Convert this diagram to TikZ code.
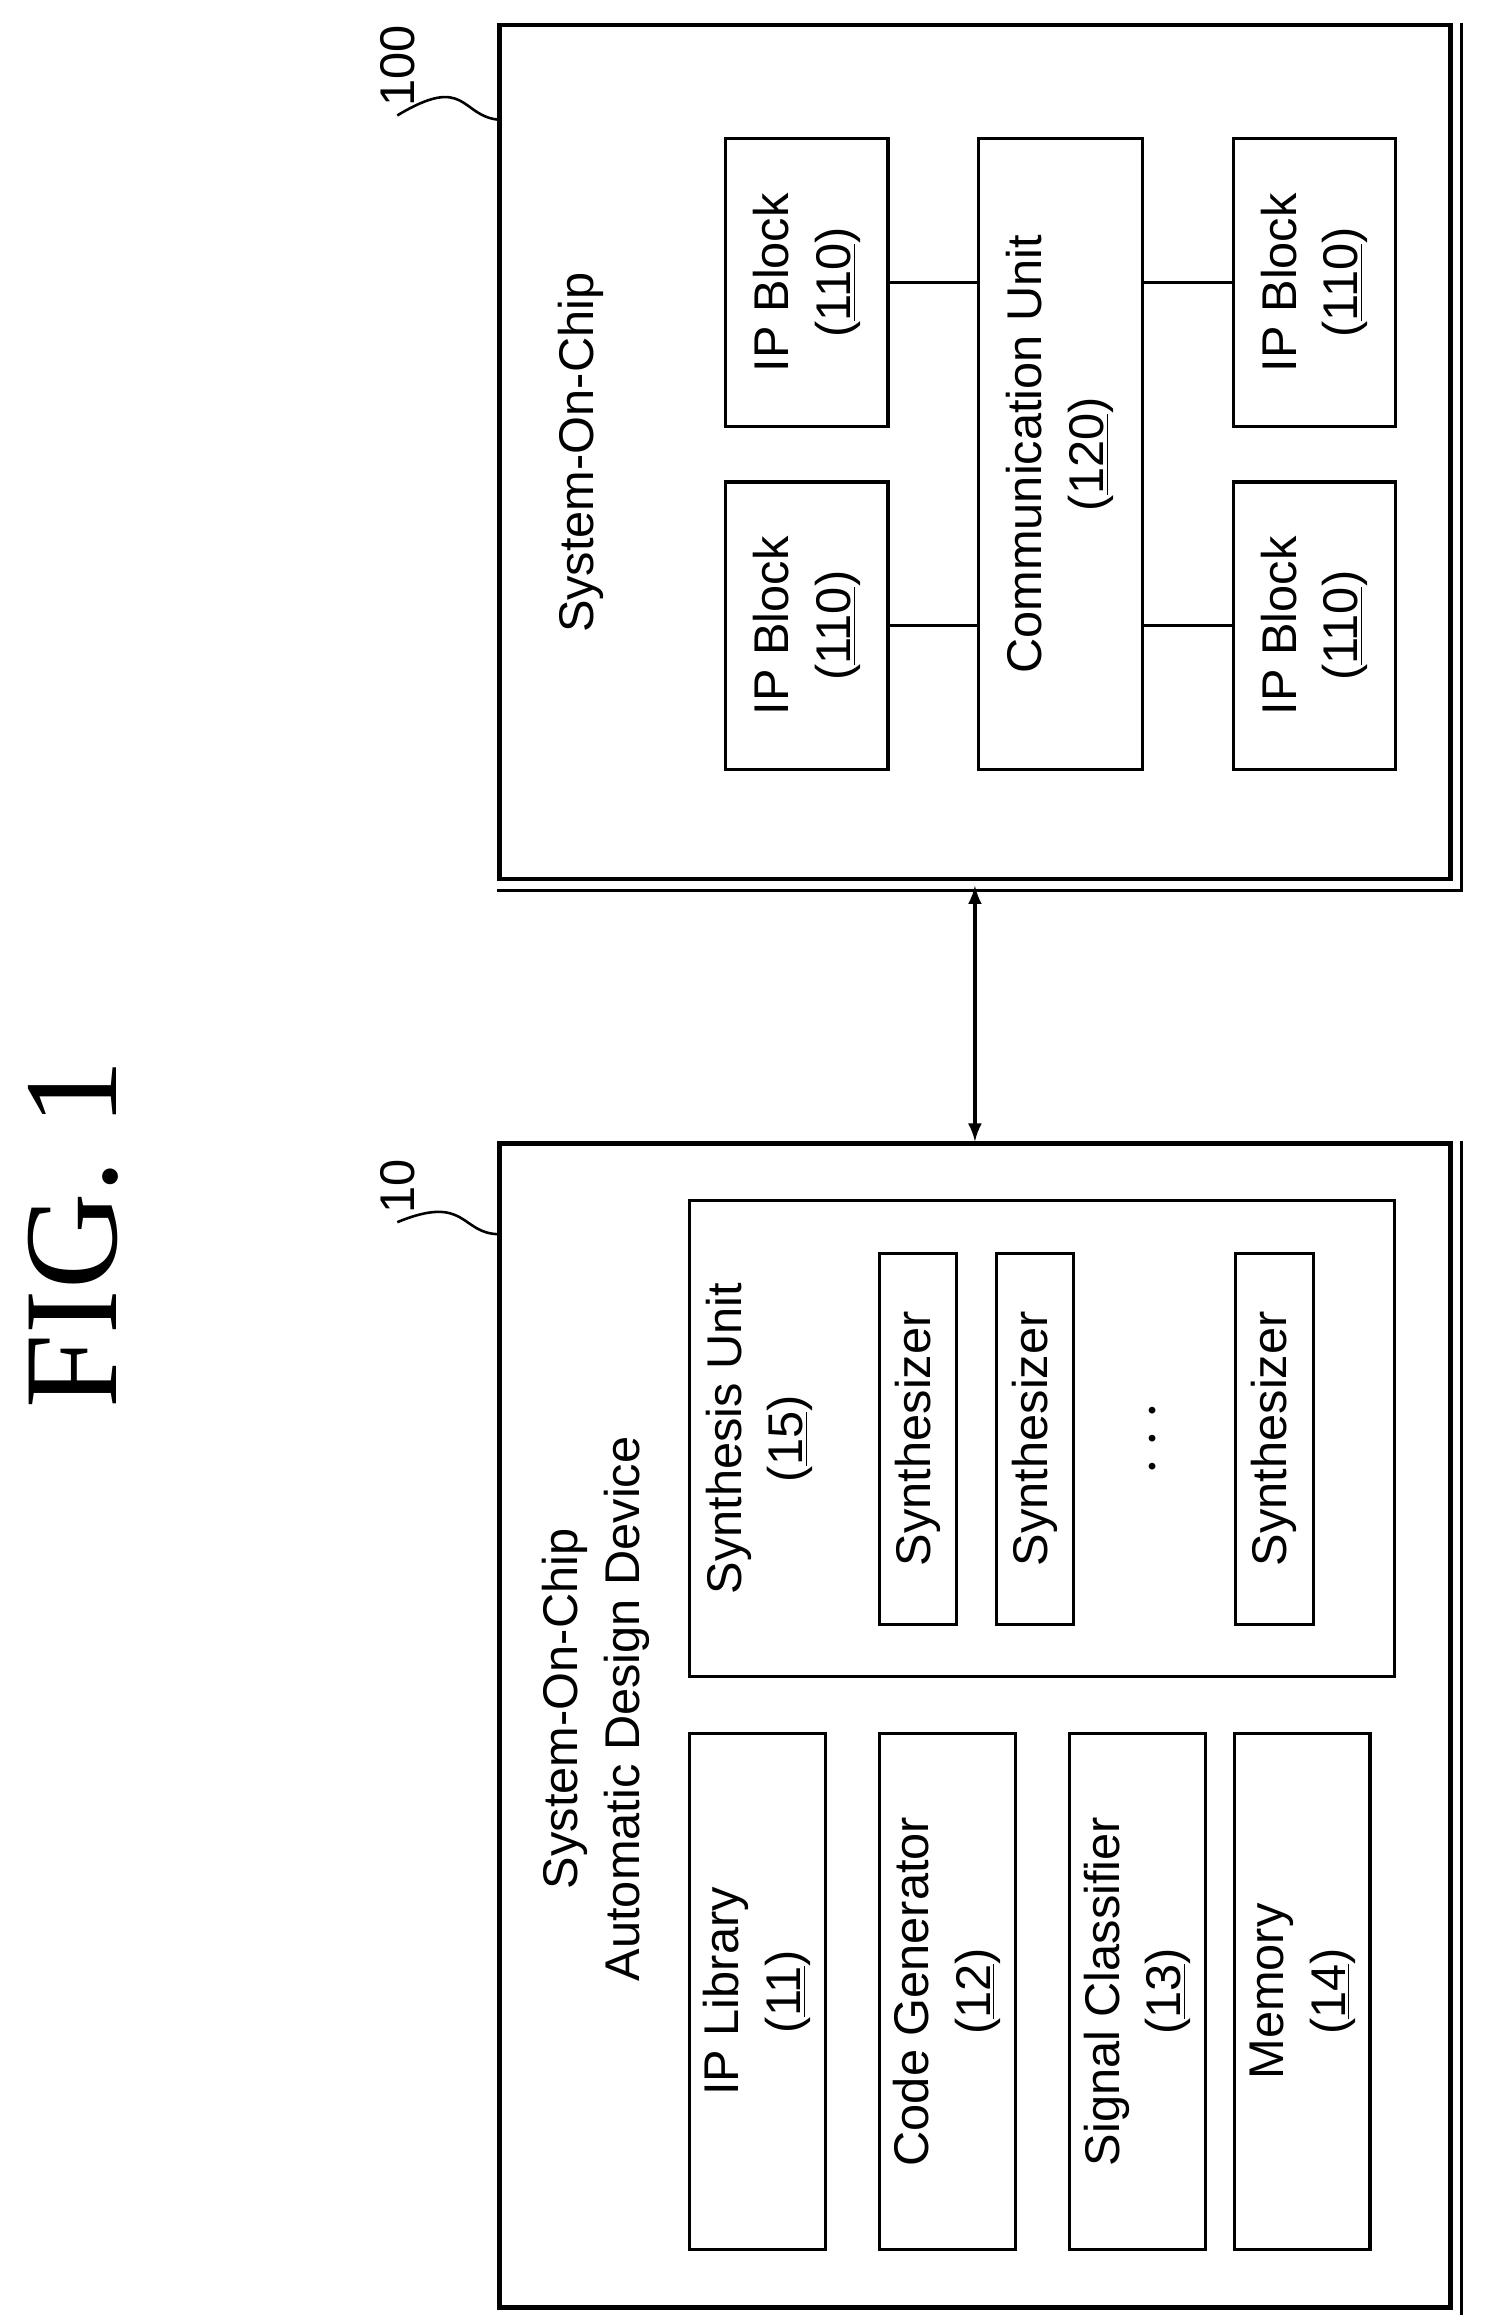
\documentclass[tikz,border=0pt]{standalone}
\usepackage{fontspec}
\setmainfont{Liberation Sans}
\newfontfamily\figfont{Liberation Serif}
\begin{document}
\begin{tikzpicture}[x=0.02cm,y=-0.02cm,
    box/.style={draw, line width=1.2pt, inner sep=0pt, font=\fontsize{19}{24}\selectfont},
    outer/.style={draw, line width=1.8pt, inner sep=0pt},
    tag/.style={rotate=90, font=\fontsize{19}{24}\selectfont}]
\useasboundingbox (0,0) rectangle (1024,1585);

    % Figure title
    \node[rotate=90, font=\figfont\fontsize{52}{60}\selectfont] (fig) at (50,845) {FIG. 1};

    % System-on-chip
    \node[outer, minimum width=13.02cm, minimum height=11.7cm] (soc) at (667.5,309.5) {};
    \draw[line width=1.2pt] ([xshift=0.12cm]soc.north east) -- ([xshift=0.12cm,yshift=-0.12cm]soc.south east) -- ([yshift=-0.12cm]soc.south west);
    \node[tag] (socname) at (398,310) {System-On-Chip};
    \foreach \n/\x/\y in {a/552.5/193.5, b/552.5/428.5, c/900/193.5, d/900/428.5} {
        \node[box, minimum width=2.22cm, minimum height=3.94cm] (ip\n) at (\x,\y)
            {\rotatebox{90}{\begin{tabular}{c}IP Block\\(\underline{110})\end{tabular}}};
    }
    \node[box, minimum width=2.24cm, minimum height=8.64cm] (comm) at (726,311)
        {\rotatebox{90}{\begin{tabular}{c}Communication Unit\\(\underline{120})\end{tabular}}};
    \foreach \n in {a, b} { \draw[line width=1.2pt] (ip\n) -- (ip\n -| comm.west); }
    \foreach \n in {c, d} { \draw[line width=1.2pt] (ip\n) -- (ip\n -| comm.east); }

    % Automatic design device
    \node[outer, minimum width=13.02cm, minimum height=15.94cm] (dev) at (667.5,1181.5) {};
    \draw[line width=1.2pt] ([xshift=0.12cm]dev.north east) -- ([xshift=0.12cm,yshift=-0.12cm]dev.south east) -- ([yshift=-0.12cm]dev.south west);
    \node[tag, align=center] (devname) at (408,1170) {System-On-Chip\\Automatic Design Device};
    \node[box, minimum width=9.66cm, minimum height=6.52cm] (synth) at (713.5,985) {};
    \node[tag, align=center] (synthname) at (520,985) {Synthesis Unit\\(\underline{15})};
    \foreach \n/\x in {1/628.5, 2/708.5, 3/872.5} {
        \node[box, minimum width=1.06cm, minimum height=5.08cm] (syn\n) at (\x,985)
            {\rotatebox{90}{Synthesizer}};
    }
    \node[tag, font=\fontsize{24}{24}\selectfont] (dots) at (790,985) {$\cdots$};
    \foreach \n/\x/\t/\k in {lib/518.5/IP Library/11, gen/648.5/Code Generator/12,
                             cls/779/Signal Classifier/13, mem/891.5/Memory/14} {
        \node[box, minimum width=1.86cm, minimum height=7.06cm] (\n) at (\x,1363.5)
            {\rotatebox{90}{\begin{tabular}{c}\t\\(\underline{\k})\end{tabular}}};
    }

    % Link between the two
    \draw[<->, >=latex, line width=1.4pt] ([yshift=-0.06cm]soc.south) -- (dev.north);

    % Reference numerals
    \node[tag] (num100) at (272,45) {100};
    \coordinate (end100) at (342,82);
    \draw[line width=1pt] (num100.west) .. controls (320,50) and (315,80) .. (end100);
    \node[tag] (num10) at (272,812) {10};
    \coordinate (end10) at (342,845);
    \draw[line width=1pt] (num10.west) .. controls (320,817) and (315,845) .. (end10);
\end{tikzpicture}
\end{document}
